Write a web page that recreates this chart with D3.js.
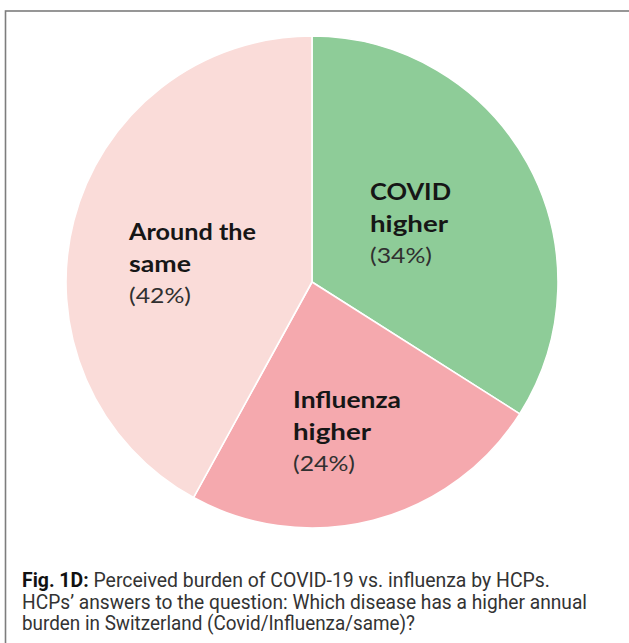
<!DOCTYPE html>
<html>
<head>
<meta charset="utf-8">
<script src="https://cdn.jsdelivr.net/npm/d3@7"></script>
<style>
  html, body { margin: 0; padding: 0; background: #fff; }
  svg { display: block; }
</style>
</head>
<body>
<svg id="chart" width="629" height="643"></svg>
<script>
// Perceived burden pie — three answers, clockwise from 12 o'clock.
const categories = ["COVID higher", "Influenza higher", "Around the same"];
const shares = [34, 24, 42];
const labelLines = [["COVID", "higher"], ["Influenza", "higher"], ["Around the", "same"]];
const sliceColors = ["#8ecc98", "#f5a9ae", "#fadcd9"];
const captionLines = [
  "Perceived burden of COVID-19 vs. influenza by HCPs.",
  "HCPs\u2019 answers to the question: Which disease has a higher annual",
  "burden in Switzerland (Covid/Influenza/same)?",
];

const W = 629, H = 643;
const CX = 312, CY = 282, R = 246;

// label block anchors (left x, first baseline) per slice
const labelAnchor = [[370, 200], [293, 408], [129, 240]];
// rendered widths of the label lines in the original (wide geometric face)
const labelWidths = [[81, 78, 62], [108, 78, 62], [127, 62, 62]];

const svg = d3.select("#chart");

// frame — right and bottom edges run off the page
svg.append("rect")
  .attr("x", 5.5).attr("y", 11)
  .attr("width", 700).attr("height", 700)
  .attr("fill", "#fff")
  .attr("stroke", "#7d7d7d")
  .attr("stroke-width", 1.6);

const data = categories.map((c, i) => ({ cat: c, value: shares[i], i }));

const pie = d3.pie().sort(null).value((d) => d.value);
const arc = d3.arc().innerRadius(0).outerRadius(R);

const g = svg.append("g").attr("transform", `translate(${CX},${CY})`);

g.selectAll("path")
  .data(pie(data))
  .join("path")
  .attr("d", arc)
  .attr("fill", (d) => sliceColors[d.data.i])
  .attr("stroke", "#fff")
  .attr("stroke-width", 1.6)
  .attr("stroke-linejoin", "round");

const labelFont = "'Lato', 'Open Sans', sans-serif";
data.forEach((d) => {
  const [x, y] = labelAnchor[d.i];
  const lines = labelLines[d.i].map((s) => ({ s, bold: true }))
    .concat([{ s: `(${d.value}%)`, bold: false }]);
  lines.forEach((ln, k) => {
    svg.append("text")
      .attr("x", x).attr("y", y + k * 31.5)
      .attr("font-family", labelFont)
      .attr("font-size", 22)
      .attr("font-weight", ln.bold ? 700 : 400)
      .attr("fill", ln.bold ? "#161616" : "#303030")
      .attr("textLength", labelWidths[d.i][k])
      .attr("lengthAdjust", "spacingAndGlyphs")
      .text(ln.s);
  });
});

// caption
const capFont = "'Roboto', 'Liberation Sans', sans-serif";
const cap = svg.append("g")
  .attr("font-family", capFont)
  .attr("font-size", 19.5)
  .attr("fill", "#333");

const l1 = cap.append("text").attr("x", 22).attr("y", 587);
l1.append("tspan").attr("font-weight", 700).attr("fill", "#111").text("Fig. 1D:");
l1.append("tspan").text(" " + captionLines[0]);

cap.append("text").attr("x", 22).attr("y", 608.5).text(captionLines[1]);
cap.append("text").attr("x", 22).attr("y", 630).text(captionLines[2]);

// squeeze caption lines to the reference widths (narrow face in original)
const capWidths = [528, 565, 393];
cap.selectAll("text").each(function (_, i) {
  d3.select(this).attr("textLength", capWidths[i]).attr("lengthAdjust", "spacingAndGlyphs");
});
</script>
</body>
</html>
